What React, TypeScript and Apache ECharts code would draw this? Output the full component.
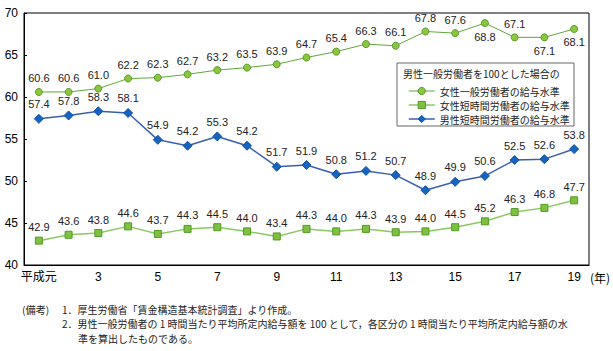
import React, { useEffect, useRef } from "react";
import * as echarts from "echarts";

const years = ["平成元", "2", "3", "4", "5", "6", "7", "8", "9", "10", "11", "12", "13", "14", "15", "16", "17", "18", "19"];
const femaleGeneral = [60.6, 60.6, 61.0, 62.2, 62.3, 62.7, 63.2, 63.5, 63.9, 64.7, 65.4, 66.3, 66.1, 67.8, 67.6, 68.8, 67.1, 67.1, 68.1];
const femaleShort = [42.9, 43.6, 43.8, 44.6, 43.7, 44.3, 44.5, 44.0, 43.4, 44.3, 44.0, 44.3, 43.9, 44.0, 44.5, 45.2, 46.3, 46.8, 47.7];
const maleShort = [57.4, 57.8, 58.3, 58.1, 54.9, 54.2, 55.3, 54.2, 51.7, 51.9, 50.8, 51.2, 50.7, 48.9, 49.9, 50.6, 52.5, 52.6, 53.8];
const femaleGeneralBelow = [15, 17, 18];
const seriesNames = ["女性一般労働者の給与水準", "女性短時間労働者の給与水準", "男性短時間労働者の給与水準"];
const legendTitle = "男性一般労働者を100とした場合の";
const noteHead = "(備考)";
const noteLines = [
  "1．厚生労働省「賃金構造基本統計調査」より作成。",
  "2．男性一般労働者の 1 時間当たり平均所定内給与額を 100 として，各区分の 1 時間当たり平均所定内給与額の水",
  "準を算出したものである。",
];

const FONT = "'Liberation Sans', Arial, 'Noto Sans CJK JP', sans-serif";
const JFONT = "'Noto Sans CJK JP', sans-serif";

const styles = [
  { line: "#5fa83a", lw: 1, fill: "#8cc63f", border: "#5a9a2a", symbol: "circle", size: 7 },
  { line: "#8cc860", lw: 1.5, fill: "#80c040", border: "#4f9a25", symbol: "rect", size: 7 },
  { line: "#3a5fb0", lw: 1.5, fill: "#1565c0", border: "#1450a0", symbol: "diamond", size: 9 },
];

export default function App() {
  const ref = useRef<HTMLDivElement>(null);
  useEffect(() => {
    document.body.style.margin = "0";
    const chart = echarts.init(ref.current!, null, { renderer: "svg" });
    const labelBase = {
      show: true,
      position: "top",
      distance: 4,
      fontSize: 11,
      color: "#222",
      fontFamily: FONT,
      formatter: (p: any) => Number(p.value).toFixed(1),
    };
    const mk = (i: number, data: any[]) => ({
      name: seriesNames[i],
      type: "line",
      data,
      symbol: styles[i].symbol,
      symbolSize: styles[i].size,
      lineStyle: { color: styles[i].line, width: styles[i].lw },
      itemStyle: { color: styles[i].fill, borderColor: styles[i].border, borderWidth: 1 },
      label: labelBase,
    });
    chart.setOption({
      animation: false,
      textStyle: { fontFamily: FONT },
      grid: { left: 24, right: 24, top: 13, bottom: 86, show: true, borderColor: "#000", borderWidth: 1 },
      xAxis: {
        type: "category",
        data: years,
        boundaryGap: true,
        axisLine: { lineStyle: { color: "#000", width: 1 } },
        axisTick: { alignWithLabel: true, interval: 0, inside: true, length: 4, lineStyle: { color: "#000" } },
        axisLabel: { interval: 1, color: "#000", fontSize: 12, margin: 6, fontFamily: FONT },
      },
      yAxis: {
        type: "value",
        min: 40,
        max: 70,
        interval: 5,
        splitLine: { show: false },
        axisLine: { show: true, lineStyle: { color: "#000", width: 1 } },
        axisTick: { show: true, inside: true, length: 3, lineStyle: { color: "#000" } },
        axisLabel: { color: "#000", fontSize: 12, margin: 6, fontFamily: FONT },
      },
      legend: {
        orient: "vertical",
        left: 403,
        top: 81,
        itemWidth: 26,
        itemHeight: 9,
        itemGap: 4,
        textStyle: { fontSize: 10, lineHeight: 10, color: "#222", fontFamily: JFONT },
        data: seriesNames.map((n, i) => ({
          name: n,
          itemStyle: { color: styles[i].fill, borderColor: styles[i].border, borderWidth: 1 },
          lineStyle: { color: styles[i].line, width: styles[i].lw },
        })),
        z: 6,
      },
      graphic: [
        { type: "rect", z: 5, shape: { x: 397, y: 63, width: 177, height: 63 }, style: { fill: "#fff", stroke: "#666", lineWidth: 1 } },
        { type: "text", z: 6, x: 403, y: 73, style: { text: legendTitle, fontSize: 10, lineHeight: 10, fill: "#222", fontFamily: JFONT, verticalAlign: "middle" } },
        { type: "text", x: 590, y: 277, style: { text: "(年)", fontSize: 12, fill: "#000", fontFamily: JFONT, verticalAlign: "middle" } },
        { type: "text", x: 22, y: 309, style: { text: noteHead, fontSize: 10.2, lineHeight: 14.5, fill: "#222", fontFamily: JFONT, verticalAlign: "middle" } },
        {
          type: "text",
          x: 62,
          y: 301.75,
          style: {
            text: noteLines[0] + "\n" + noteLines[1] + "\n{ind| }" + noteLines[2],
            rich: { ind: { width: 16, fontSize: 10, lineHeight: 14.5 } },
            fontSize: 10,
            lineHeight: 14.5,
            fill: "#222",
            fontFamily: JFONT,
            verticalAlign: "top",
          },
        },
      ],
      series: [
        mk(0, femaleGeneral.map((v, i) => (femaleGeneralBelow.includes(i) ? { value: v, label: { position: "bottom" } } : v))),
        mk(1, femaleShort),
        mk(2, maleShort),
      ],
    });
    return () => chart.dispose();
  }, []);
  return <div ref={ref} style={{ width: 613, height: 351 }} />;
}
